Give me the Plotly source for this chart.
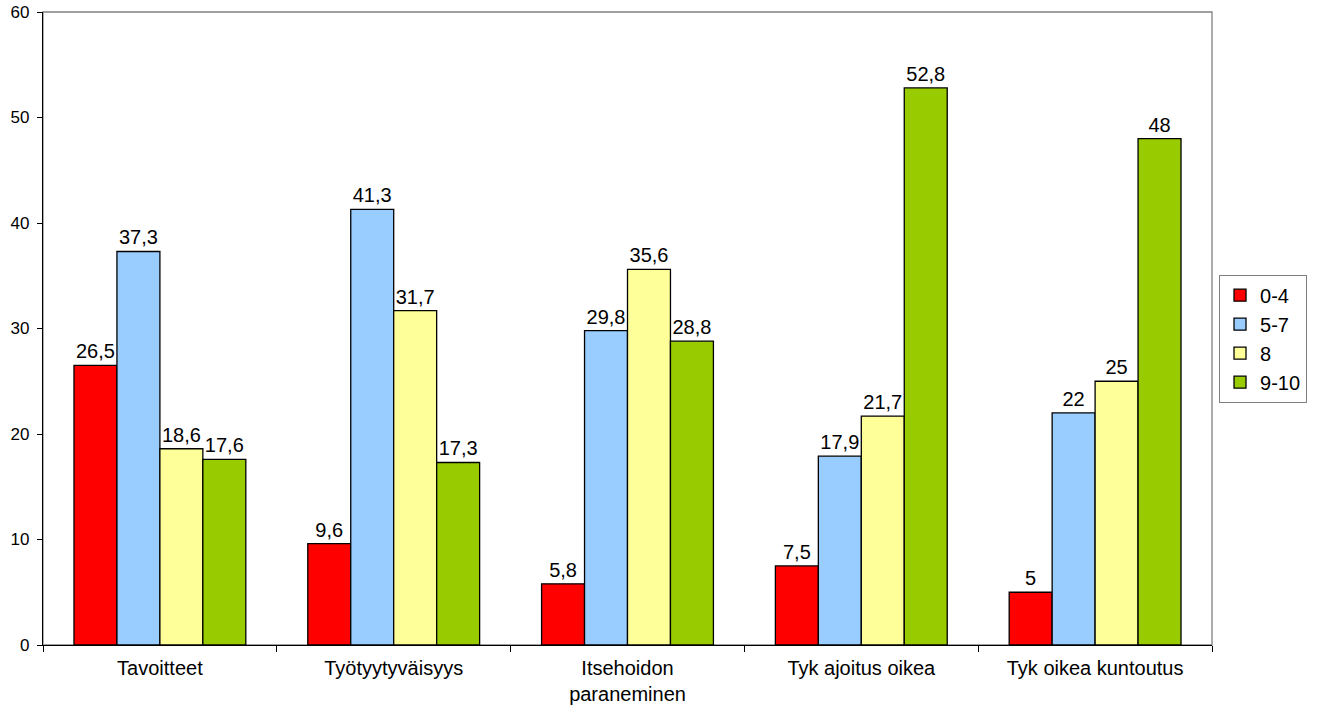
import plotly.graph_objects as go

categories = ["Tavoitteet", "Työtyytyväisyys", "Itsehoidon<br>paraneminen",
              "Tyk ajoitus oikea", "Tyk oikea kuntoutus"]
series_names = ["0-4", "5-7", "8", "9-10"]
values_0_4 = [26.5, 9.6, 5.8, 7.5, 5]
values_5_7 = [37.3, 41.3, 29.8, 17.9, 22]
values_8 = [18.6, 31.7, 35.6, 21.7, 25]
values_9_10 = [17.6, 17.3, 28.8, 52.8, 48]
colors = ["#ff0000", "#99ccff", "#ffff99", "#99cc00"]

FONT = "Liberation Sans, Arial, sans-serif"


def fmt(v):
    # Finnish decimal comma
    return f"{v:g}".replace(".", ",")


fig = go.Figure()
for name, vals, col in zip(series_names, [values_0_4, values_5_7, values_8, values_9_10], colors):
    fig.add_trace(go.Bar(
        x=categories, y=vals, name=name,
        marker=dict(color=col, line=dict(color="black", width=1.3)),
        text=[fmt(v) for v in vals], textposition="outside",
        constraintext="none",
        textfont=dict(family=FONT, size=20, color="black"),
        cliponaxis=False,
    ))

fig.update_layout(
    barmode="group", bargap=0.265, bargroupgap=0,
    width=1320, height=708,
    margin=dict(l=43, r=108, t=12, b=63),
    plot_bgcolor="white", paper_bgcolor="white",
    font=dict(family=FONT, size=20, color="black"),
    showlegend=True,
    legend=dict(x=1.006, xanchor="left", y=0.585, yanchor="top",
                bordercolor="#808080", borderwidth=1, bgcolor="white",
                font=dict(size=20), tracegroupgap=0, itemwidth=30),
    shapes=[dict(type="rect", xref="paper", yref="paper", x0=0, x1=1, y0=0, y1=1,
                 line=dict(color="#808080", width=1.3), layer="below")],
)
fig.update_xaxes(showline=True, linecolor="black", linewidth=1.3, automargin=False,
                 ticks="outside", tickson="boundaries", ticklen=6, tickcolor="black",
                 tickfont=dict(size=20), ticklabelstandoff=5, showgrid=False)
fig.update_yaxes(range=[0, 60], dtick=10, showline=True, linecolor="black", linewidth=1.3,
                 automargin=False, ticks="outside", ticklen=5, tickcolor="black",
                 showgrid=False, zeroline=False, tickfont=dict(size=17),
                 ticklabelstandoff=4)

fig.write_html("out.html")
